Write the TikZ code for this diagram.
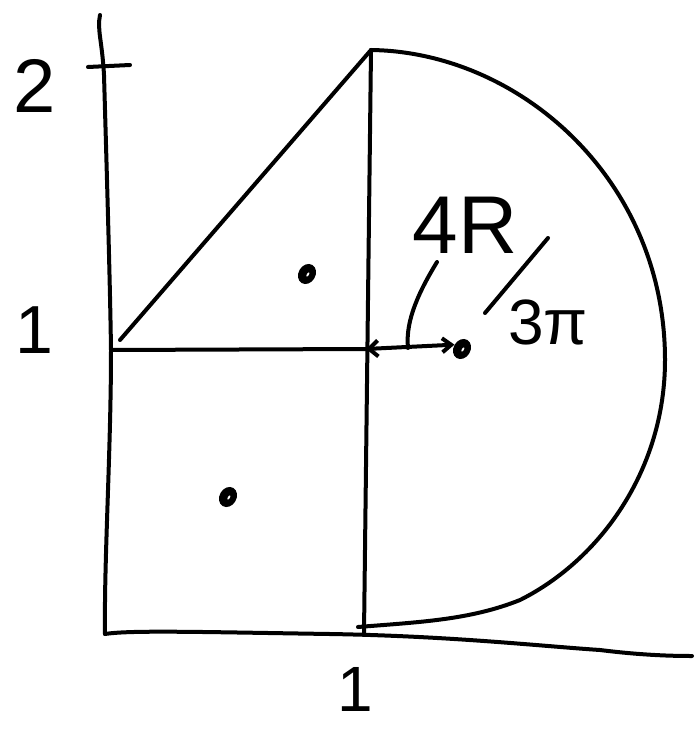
\documentclass[tikz,border=0pt]{standalone}
\usepackage{fontspec}
\setmainfont{Liberation Sans}
\usetikzlibrary{arrows.meta,shapes.geometric}
\begin{document}
\begin{tikzpicture}[x=1pt,y=-1pt,
  pen/.style={line width=4pt,line cap=round,line join=round},
  lbl/.style={inner sep=0pt,anchor=center},
  cdot/.style={ellipse,fill=black,minimum width=17pt,minimum height=21pt,inner sep=0pt,rotate=-30}]
\useasboundingbox (0,0) rectangle (695,730);
% coordinates
\coordinate (ytop) at (100,15);
\coordinate (o) at (105,634);
\coordinate (xend) at (692,656);
\coordinate (a1) at (111,350);
\coordinate (b1) at (366,349);
\coordinate (top) at (371,50);
\coordinate (bot) at (364,633);
\coordinate (arcbot) at (358,627);
\coordinate (t2l) at (88,67);
\coordinate (t2r) at (130,65);
% axes
\draw[pen] (ytop) .. controls (97,30) and (102,40) .. (104,75)
  .. controls (107,180) and (110,280) .. (a1)
  .. controls (111,450) and (104,560) .. (o);
\draw[pen] (o) .. controls (130,630) and (200,632) .. (330,634)
  .. controls (450,636) and (540,646) .. (600,650) .. controls (640,655) and (670,656) .. (xend);
\draw[pen] (t2l) -- (t2r);
% square and triangle
\draw[pen] (a1) -- (b1);
\draw[pen] (top) -- (bot);
\draw[pen] (120,340) -- (top);
% semicircle
\draw[pen] (top) .. controls (520,52) and (665,180) .. (665,360)
  .. controls (665,470) and (600,560) .. (520,600)
  .. controls (470,620) and (420,622) .. (arcbot);
% centroids
\node[cdot] (c1) at (307,274) {};
\node[cdot] (c2) at (228,497) {};
\node[cdot] (c3) at (462,349) {};
\foreach \c in {c1,c2,c3}{\fill[white,rotate around={-30:(\c.center)}] ([shift={(1,0)}]\c.center) ellipse (1pt and 2.4pt);}
% double arrow
\draw[pen,{Straight Barb[length=9pt,width=16pt]}-{Straight Barb[length=9pt,width=14pt]}] (b1) -- (c3.west);
% labels
\node[lbl] (two) at (35,86) {\fontsize{76}{76}\selectfont 2};
\node[lbl] (oney) at (34,330) {\fontsize{68}{68}\selectfont 1};
\node[lbl] (onex) at (355,689) {\fontsize{64}{64}\selectfont 1};
\node[lbl] (num) at (465,225) {\fontsize{82}{82}\selectfont 4R};
\node[lbl] (den) at (548,322) {\fontsize{64}{64}\selectfont 3\char"03C0};
\coordinate (lead) at (408,348);
\draw[pen] (437,262) .. controls (420,290) and (405,320) .. (lead);
\draw[pen] (548,238) -- (485,313);
\end{tikzpicture}
\end{document}
